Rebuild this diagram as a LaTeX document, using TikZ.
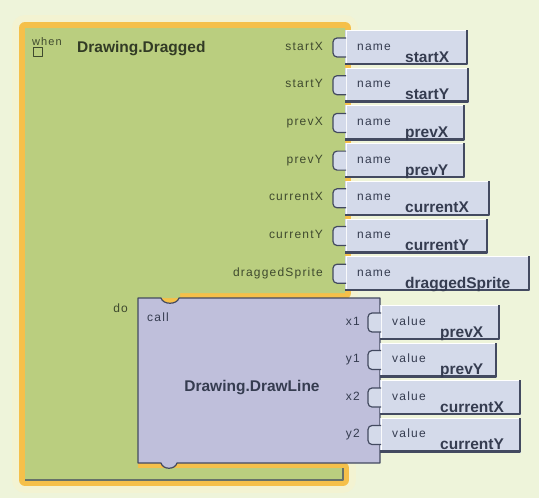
\documentclass[tikz,border=0pt]{standalone}
\usepackage{fontspec}
\setmainfont{Liberation Sans}
\newfontfamily\spacedfont[LetterSpace=10]{Liberation Sans}
\usetikzlibrary{positioning}

\definecolor{bgpale}{HTML}{EEF4DA}
\definecolor{glowpale}{HTML}{F3F3D2}
\definecolor{glow}{HTML}{F5C04A}
\definecolor{evgreen}{HTML}{BACE7F}
\definecolor{callpurple}{HTML}{BFBFDB}
\definecolor{argblue}{HTML}{D4DAEA}
\definecolor{edgedark}{HTML}{434A60}
\definecolor{txtgreen}{HTML}{3F4A2E}
\definecolor{txtblue}{HTML}{353C50}

\tikzset{
  portlabel/.style={font=\spacedfont\fontsize{12}{12}\selectfont, text=txtgreen, inner sep=0pt},
  callport/.style={font=\spacedfont\fontsize{12}{12}\selectfont, text=txtblue, inner sep=0pt},
  smallword/.style={font=\spacedfont\fontsize{12}{12}\selectfont, text=txtblue, inner sep=0pt},
  valueword/.style={font=\fontsize{15.5}{16}\selectfont\bfseries, text=txtblue, inner sep=0pt},
  blocktitle/.style={font=\fontsize{15.5}{16}\selectfont\bfseries, inner sep=0pt},
  checkbox/.style={draw=txtgreen, line width=0.9pt, minimum size=9pt, inner sep=0pt}
}

% #1 name, #2 left, #3 top, #4 right, #5 small word, #6 value
\newcommand\argblock[6]{
  \fill[argblue] (#2,#3) rectangle (#4,#3+35);
  \draw[white, line width=1pt] (#2+1,#3+33) -- (#2+1,#3+0.5) -- (#4-2,#3+0.5);
  \draw[edgedark, line width=2.5pt] (#2,#3+34) -- (#4-1,#3+34) -- (#4-1,#3);
  \filldraw[fill=argblue, draw=edgedark, line width=1.2pt] (#2+1,#3+8) -- (#2-8,#3+8)
    to[out=180,in=90] (#2-12,#3+12) -- (#2-12,#3+23) to[out=270,in=180] (#2-8,#3+27) -- (#2+1,#3+27);
  \node[smallword, anchor=base west] (#1-word) at (#2+12,#3+20) {#5};
  \node[valueword, anchor=base west] (#1-val)  at (#2+60,#3+32) {#6};
}

\begin{document}
\begin{tikzpicture}[x=1pt, y=-1pt, line join=round]
    \fill[bgpale] (0,0) rectangle (539,498);
    \useasboundingbox (0,0) rectangle (539,498);

    \def\evpath{(25,28) -- (345,28) -- (345,293) -- (180,293) -- (180,298) -- (138,298)
      -- (138,468) -- (343,468) -- (343,480) -- (25,480) -- cycle}
    \draw[glowpale, line width=26pt] \evpath;
    \draw[glow, line width=12pt] \evpath;
    \fill[evgreen] \evpath;
    \draw[edgedark!70!evgreen, line width=1.2pt] (25,480) -- (343,480) -- (343,468);

    \node[portlabel, font=\spacedfont\fontsize{11}{11}\selectfont, anchor=base west] (when) at (32,45) {when};
    \node[checkbox, below=2pt of when.south west, anchor=north west, xshift=1pt] (flag) {};
    \node[blocktitle, text=txtgreen!80!black, anchor=base west] (dragged) at (77,52) {Drawing.Dragged};

    \node[portlabel, anchor=base east] (pstartx)  at (323,50)    {startX};
    \node[portlabel, anchor=base east] (pstarty)  at (323,87.7)  {startY};
    \node[portlabel, anchor=base east] (pprevx)   at (323,125.4) {prevX};
    \node[portlabel, anchor=base east] (pprevy)   at (323,163.1) {prevY};
    \node[portlabel, anchor=base east] (pcurx)    at (323,200.8) {currentX};
    \node[portlabel, anchor=base east] (pcury)    at (323,238.5) {currentY};
    \node[portlabel, anchor=base east] (psprite)  at (323,276.2) {draggedSprite};
    \node[portlabel, anchor=base east] (do)       at (128,312)   {do};

    \argblock{startx}{345}{30}{468}{name}{startX}
    \argblock{starty}{345}{67.7}{469}{name}{startY}
    \argblock{prevx}{345}{105.4}{465}{name}{prevX}
    \argblock{prevy}{345}{143.1}{465}{name}{prevY}
    \argblock{curx}{345}{180.8}{490}{name}{currentX}
    \argblock{cury}{345}{218.5}{488}{name}{currentY}
    \argblock{sprite}{345}{256.2}{530}{name}{draggedSprite}

    \filldraw[fill=callpurple, draw=edgedark, line width=1.2pt] (138,298) -- (161,298)
      .. controls (163,305) and (177,305) .. (179,298) -- (380,298) -- (380,463) -- (177,463)
      .. controls (175,470) and (163,470) .. (161,463) -- (138,463) -- cycle;
    \node[smallword, anchor=base west] (call) at (147,321) {call};
    \node[blocktitle, text=txtblue] (drawline) at (252,388) {Drawing.DrawLine};

    \node[callport, anchor=base east] (px1) at (360,325)   {x1};
    \node[callport, anchor=base east] (py1) at (360,362.5) {y1};
    \node[callport, anchor=base east] (px2) at (360,400)   {x2};
    \node[callport, anchor=base east] (py2) at (360,437.5) {y2};

    \argblock{vprevx}{380}{305}{500}{value}{prevX}
    \argblock{vprevy}{380}{342.5}{497}{value}{prevY}
    \argblock{vcurx}{380}{380}{521}{value}{currentX}
    \argblock{vcury}{380}{417.5}{521}{value}{currentY}
\end{tikzpicture}
\end{document}
